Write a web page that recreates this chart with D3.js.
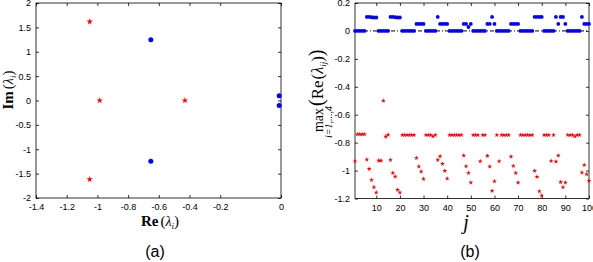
<!DOCTYPE html>
<html>
<head>
<meta charset="utf-8">
<title>Eigenvalues</title>
<style>
  body { margin: 0; background: #fff; }
  svg { display: block; }
  .tick text { font: 9px "Liberation Sans", Arial, sans-serif; fill: #000; }
  .tick line { stroke: #000; stroke-width: 0.8px; }
  .box { fill: none; stroke: #000; stroke-width: 0.8px; }
  .serif { font-family: "Liberation Serif", "DejaVu Serif", serif; }
  .caption { font: 16px "Liberation Sans", Arial, sans-serif; }
</style>
</head>
<body>
<div id="chart"></div>
<script src="https://cdn.jsdelivr.net/npm/d3@7"></script>
<script>
// ---- panel (a): eigenvalues in the complex plane
var reStar = [-1.05, -0.985, -0.43, -1.05];
var imStar = [1.617, 0, 0, -1.617];
var reDot = [-0.652, -0.652, -0.006, -0.006];
var imDot = [1.247, -1.247, 0.1, -0.1];
var aXTicks = [-1.4, -1.2, -1, -0.8, -0.6, -0.4, -0.2, 0];
var aYTicks = [2, 1.5, 1, 0.5, 0, -0.5, -1, -1.5, -2];

// ---- panel (b): max real part for each j
var jVals = d3.range(1, 101);
var maxReDot = [
  0, 0, 0, 0, 0, 0.1, 0.1, 0.098, 0.096, 0.096,
  0, 0, 0, 0, 0, 0.1, 0.1, 0.098, 0.096, 0.096,
  0, 0, 0, 0, 0, 0, 0.05, 0.05, 0.05, 0.05,
  0, 0, 0, 0, 0, 0.1, 0.05, 0.05, 0.05, 0.05,
  0, 0, 0, 0, 0, 0, 0.05, 0.05, 0.028, 0.05,
  0, 0, 0, 0, 0, 0, 0.05, 0.05, 0.1, 0.05,
  0, 0, 0, 0, 0, 0, 0.05, 0.05, 0.05, 0.05,
  0, 0, 0, 0, 0, 0, 0.1, 0.1, 0.1, 0.1,
  0, 0, 0, 0, 0, 0.1, 0.05, 0.1, 0.1, 0.05,
  0, 0, 0, 0, 0, 0, 0.1, 0.05, 0.05, 0.05
];
var maxReStar = [
  -0.933, -0.74, -0.74, -0.74, -0.74, -0.921, -0.988, -1.067, -1.119, -1.157,
  -0.929, -0.929, -0.5, -0.757, -0.743, -0.924, -1.017, -1.043, -1.138, -1.157,
  -0.745, -0.745, -0.745, -0.745, -0.745, -0.745, -0.91, -0.971, -1.007, -1.06,
  -0.745, -0.745, -0.745, -0.755, -0.745, -0.924, -0.898, -0.952, -1.002, -1.057,
  -0.745, -0.745, -0.745, -0.745, -0.745, -0.745, -0.893, -0.969, -1.017, -1.086,
  -0.745, -0.745, -0.745, -0.933, -0.745, -0.745, -0.895, -0.971, -1.145, -1.076,
  -0.745, -0.933, -0.745, -0.745, -0.745, -0.745, -0.9, -0.967, -1.017, -1.086,
  -0.745, -0.745, -0.745, -0.745, -0.745, -0.745, -1.002, -1.045, -1.148, -1.179,
  -0.745, -0.745, -0.745, -0.931, -0.745, -0.936, -0.893, -1.083, -1.119, -1.086,
  -0.745, -0.745, -0.745, -0.755, -0.745, -0.745, -1.014, -0.96, -1.026, -1.074
];
var bXTicks = [10, 20, 30, 40, 50, 60, 70, 80, 90, 100];
var bYTicks = [0.2, 0, -0.2, -0.4, -0.6, -0.8, -1, -1.2];

var width = 593, height = 262;
var tickLen = 3;

var svg = d3.select("#chart").append("svg")
    .attr("width", width)
    .attr("height", height);

function fmt(d) { return d3.format("")(d).replace("\u2212", "-"); }

// draws the inward MATLAB-like axes box for one panel
function drawAxes(g, x, y, xt, yt, x0, x1, y0, y1) {
  g.append("g")
   .attr("transform", "translate(0," + y1 + ")")
   .call(d3.axisBottom(x).tickValues(xt).tickSizeInner(-tickLen).tickSizeOuter(0).tickPadding(6).tickFormat(fmt))
   .call(function(s) { s.select(".domain").remove(); });
  g.append("g")
   .attr("transform", "translate(0," + y0 + ")")
   .call(d3.axisTop(x).tickValues(xt).tickSizeInner(-tickLen).tickSizeOuter(0).tickFormat(""))
   .call(function(s) { s.select(".domain").remove(); });
  g.append("g")
   .attr("transform", "translate(" + x0 + ",0)")
   .call(d3.axisLeft(y).tickValues(yt).tickSizeInner(-tickLen).tickSizeOuter(0).tickPadding(5).tickFormat(fmt))
   .call(function(s) { s.select(".domain").remove(); });
  g.append("g")
   .attr("transform", "translate(" + x1 + ",0)")
   .call(d3.axisRight(y).tickValues(yt).tickSizeInner(-tickLen).tickSizeOuter(0).tickFormat(""))
   .call(function(s) { s.select(".domain").remove(); });
  g.append("rect").attr("class", "box")
   .attr("x", x0).attr("y", y0)
   .attr("width", x1 - x0).attr("height", y1 - y0);
}

// ------------------- panel (a) --------------------------
var ax0 = 36, ax1 = 281, ay0 = 3, ay1 = 198;
var xa = d3.scaleLinear().domain([-1.4, -0.2, 0]).range([ax0, 220.2, ax1]);
var ya = d3.scaleLinear().domain([-2, 2]).range([ay1, ay0]);

var ga = svg.append("g");
drawAxes(ga, xa, ya, aXTicks, aYTicks, ax0, ax1, ay0, ay1);

ga.selectAll("path.star")
  .data(reStar.map(function(d, i) { return [d, imStar[i]]; }))
  .enter().append("path")
  .attr("class", "star")
  .attr("d", d3.symbol().type(d3.symbolStar).size(13))
  .attr("fill", "#ff0000")
  .attr("transform", function(d) { return "translate(" + xa(d[0]) + "," + ya(d[1]) + ")"; });

ga.selectAll("circle.dot")
  .data(reDot.map(function(d, i) { return [d, imDot[i]]; }))
  .enter().append("circle")
  .attr("class", "dot")
  .attr("r", 2.5)
  .attr("fill", "#0000ff")
  .attr("cx", function(d) { return xa(d[0]); })
  .attr("cy", function(d) { return ya(d[1]); });

// axis labels (a)
var la = ga.append("text").attr("class", "serif")
  .attr("x", 160).attr("y", 226).attr("text-anchor", "middle");
la.append("tspan").attr("font-weight", "bold").attr("font-size", 15).text("Re");
la.append("tspan").attr("font-size", 15).attr("dx", 2).text("(");
la.append("tspan").attr("font-size", 14).attr("font-style", "italic").text("\u03bb");
la.append("tspan").attr("font-size", 9).attr("font-style", "italic").attr("dy", 3).text("i");
la.append("tspan").attr("font-size", 15).attr("dy", -3).text(")");

var lb = ga.append("text").attr("class", "serif")
  .attr("transform", "translate(13,90) rotate(-90)")
  .attr("text-anchor", "middle");
lb.append("tspan").attr("font-weight", "bold").attr("font-size", 15).text("Im");
lb.append("tspan").attr("font-size", 15).attr("dx", 2).text("(");
lb.append("tspan").attr("font-size", 14).attr("font-style", "italic").text("\u03bb");
lb.append("tspan").attr("font-size", 9).attr("font-style", "italic").attr("dy", 3).text("i");
lb.append("tspan").attr("font-size", 15).attr("dy", -3).text(")");

ga.append("text").attr("class", "caption")
  .attr("x", 155).attr("y", 257).attr("text-anchor", "middle").text("(a)");

// ------------------- panel (b) --------------------------
var bx0 = 355, bx1 = 589, by0 = 3, by1 = 198.5;
var xb = d3.scaleLinear().domain([1, 100]).range([bx0, bx1]);
var yb = d3.scaleLinear().domain([-1.2, 0.2]).range([by1, by0]);

var gb = svg.append("g");
drawAxes(gb, xb, yb, bXTicks, bYTicks, bx0, bx1, by0, by1);

gb.append("line")
  .attr("x1", bx0).attr("x2", bx1)
  .attr("y1", yb(0)).attr("y2", yb(0))
  .attr("stroke", "#000").attr("stroke-width", 1)
  .attr("stroke-dasharray", "4,2,1,2");

gb.selectAll("path.star")
  .data(jVals)
  .enter().append("path")
  .attr("class", "star")
  .attr("d", d3.symbol().type(d3.symbolStar).size(7.5))
  .attr("fill", "#ff0000")
  .attr("transform", function(d, i) { return "translate(" + xb(d) + "," + yb(maxReStar[i]) + ")"; });

gb.selectAll("circle.dot")
  .data(jVals)
  .enter().append("circle")
  .attr("class", "dot")
  .attr("r", 1.9)
  .attr("fill", "#0000ff")
  .attr("cx", function(d) { return xb(d); })
  .attr("cy", function(d, i) { return yb(maxReDot[i]); });

// axis labels (b)
gb.append("text").attr("class", "serif")
  .attr("x", 466).attr("y", 229).attr("text-anchor", "middle")
  .attr("font-size", 20).attr("font-style", "italic").text("j");

var yl = gb.append("g").attr("transform", "translate(318,92) rotate(-90)");
yl.append("text").attr("class", "serif")
  .attr("x", -28).attr("y", 5).attr("text-anchor", "middle")
  .attr("font-size", 14).text("max");
yl.append("text").attr("class", "serif")
  .attr("x", -30).attr("y", 14).attr("text-anchor", "middle")
  .attr("font-size", 10).attr("font-style", "italic").text("i=1,...,4");
var yt = yl.append("text").attr("class", "serif")
  .attr("x", -14).attr("y", 5).attr("text-anchor", "start");
yt.append("tspan").attr("font-size", 20).text("(");
yt.append("tspan").attr("font-size", 17).text("Re");
yt.append("tspan").attr("font-size", 17).attr("dx", 1).text("(");
yt.append("tspan").attr("font-size", 16).attr("font-style", "italic").text("\u03bb");
yt.append("tspan").attr("font-size", 9).attr("font-style", "italic").attr("dy", 3).text("ij");
yt.append("tspan").attr("font-size", 17).attr("dy", -3).text(")");
yt.append("tspan").attr("font-size", 20).text(")");

gb.append("text").attr("class", "caption")
  .attr("x", 470).attr("y", 257).attr("text-anchor", "middle").text("(b)");
</script>
</body>
</html>
